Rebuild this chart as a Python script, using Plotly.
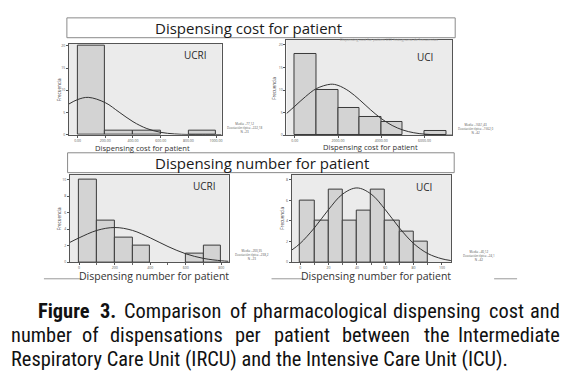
import plotly.graph_objects as go

W, H = 570, 380

# ---------------- data ----------------
# Panel 1: dispensing cost per patient, UCRI
cost_ucri_bin_left = [0, 200, 400, 600, 800]
cost_ucri_counts = [20, 1, 1, 0, 1]
cost_ucri_bin_width = 200
cost_ucri_curve_x = [-63, 0, 77, 200, 300, 400, 500, 600, 700, 800, 900, 1040]
cost_ucri_curve_y = [6.9, 7.9, 8.4, 7.2, 5.07, 2.92, 1.37, 0.52, 0.16, 0.04, 0.01, 0.0]
cost_ucri_xticks = [0, 200, 400, 600, 800, 1000]
cost_ucri_xticklabels = ["0.00", "200.00", "400.00", "600.00", "800.00", "1000.00"]
cost_ucri_yticks = [0, 5, 10, 15, 20]

# Panel 2: dispensing cost per patient, UCI
cost_uci_bin_left = [0, 1000, 2000, 3000, 4000, 5000, 6000]
cost_uci_counts = [18, 10, 6, 4, 3, 0, 1]
cost_uci_bin_width = 1000
cost_uci_curve_x = [-383, 0, 500, 1000, 1661, 2000, 2500, 3000, 3500, 4000, 4500, 5000, 5500, 6000, 6500, 7000, 7277]
cost_uci_curve_y = [4.8, 6.42, 8.57, 10.33, 11.3, 11.04, 9.78, 7.83, 5.65, 3.68, 2.17, 1.15, 0.55, 0.24, 0.09, 0.03, 0.02]
cost_uci_xticks = [0, 2000, 4000, 6000]
cost_uci_xticklabels = ["0.00", "2000.00", "4000.00", "6000.00"]
cost_uci_yticks = [0, 5, 10, 15, 20]

# Panel 3: dispensing number per patient, UCRI
num_ucri_bin_left = [0, 100, 200, 300, 400, 500, 600, 700]
num_ucri_counts = [10, 5, 3, 2, 0, 0, 1, 2]
num_ucri_bin_width = 100
num_ucri_curve_x = [-52, 0, 100, 200, 300, 400, 500, 600, 700, 800, 841]
num_ucri_curve_y = [2.4, 2.95, 3.85, 4.2, 3.85, 2.95, 1.9, 1.02, 0.46, 0.18, 0.11]
num_ucri_xticks = [0, 200, 400, 600, 800]
num_ucri_yticks = [0, 2, 4, 6, 8, 10]

# Panel 4: dispensing number per patient, UCI
num_uci_bin_left = [0, 10, 20, 30, 40, 50, 60, 70, 80]
num_uci_counts = [6, 4, 7, 4, 5, 7, 4, 3, 2]
num_uci_bin_width = 10
num_uci_curve_x = [-5.9, 0, 10, 20, 30, 40, 50, 60, 70, 80, 90, 100, 106.3]
num_uci_curve_y = [1.18, 1.82, 3.32, 5.1, 6.61, 7.2, 6.61, 5.1, 3.32, 1.82, 0.84, 0.33, 0.16]
num_uci_xticks = [0, 20, 40, 60, 80, 100]
num_uci_yticks = [0, 2, 4, 6, 8]

stats_texts = [
    "Media =77,12<br>Desviación típica =222,18<br>N =23",
    "Media =1661,43<br>Desviación típica =1562,0<br>N =42",
    "Media =200,35<br>Desviación típica =238,2<br>N =23",
    "Media =40,12<br>Desviación típica =24,1<br>N =42",
]

caption_line1 = ["Figure", "3.", "Comparison", "of", "pharmacological", "dispensing", "cost", "and"]
caption_line1_bold = [True, True, False, False, False, False, False, False]
caption_line2 = ["number", "of", "dispensations", "per", "patient", "between", "the", "Intermediate"]
caption_line3 = "Respiratory Care Unit (IRCU) and the Intensive Care Unit (ICU)."

# ---------------- layout helpers ----------------
def px(x):
    return x / W

def py(y):
    return 1 - y / H

panels = [
    dict(dx=(69, 222), dy=(43, 134.7), xr=(-63, 1040), yr=(0, 20.5),
         left=cost_ucri_bin_left, counts=cost_ucri_counts, w=cost_ucri_bin_width,
         cx=cost_ucri_curve_x, cy=cost_ucri_curve_y,
         xt=cost_ucri_xticks, xtl=cost_ucri_xticklabels, yt=cost_ucri_yticks, minor=None),
    dict(dx=(287, 453), dy=(39.3, 135.3), xr=(-383, 7277), yr=(0, 21.1),
         left=cost_uci_bin_left, counts=cost_uci_counts, w=cost_uci_bin_width,
         cx=cost_uci_curve_x, cy=cost_uci_curve_y,
         xt=cost_uci_xticks, xtl=cost_uci_xticklabels, yt=cost_uci_yticks, minor=None),
    dict(dx=(70, 229), dy=(175, 263.3), xr=(-52, 841), yr=(0, 10.6),
         left=num_ucri_bin_left, counts=num_ucri_counts, w=num_ucri_bin_width,
         cx=num_ucri_curve_x, cy=num_ucri_curve_y,
         xt=num_ucri_xticks, xtl=[str(v) for v in num_ucri_xticks], yt=num_ucri_yticks, minor=100),
    dict(dx=(292.3, 451.7), dy=(175, 263.3), xr=(-5.9, 106.3), yr=(0, 8.49),
         left=num_uci_bin_left, counts=num_uci_counts, w=num_uci_bin_width,
         cx=num_uci_curve_x, cy=num_uci_curve_y,
         xt=num_uci_xticks, xtl=[str(v) for v in num_uci_xticks], yt=num_uci_yticks, minor=10),
]

fig = go.Figure()
layout = dict(width=W, height=H, margin=dict(l=0, r=0, t=0, b=0),
              paper_bgcolor="white", plot_bgcolor="#ebebeb", showlegend=False,
              bargap=0, font=dict(family="Open Sans, Lato, sans-serif", color="#222"))

for i, p in enumerate(panels):
    n = "" if i == 0 else str(i + 1)
    xa, ya = "x" + n, "y" + n
    bx = [l + p["w"] / 2 for l, c in zip(p["left"], p["counts"]) if c > 0]
    by = [c for c in p["counts"] if c > 0]
    fig.add_trace(go.Bar(x=bx, y=by, width=[p["w"]] * len(bx), xaxis=xa, yaxis=ya,
                         marker=dict(color="#d3d3d3", line=dict(color="#3a3a3a", width=1)),
                         hoverinfo="skip"))
    fig.add_trace(go.Scatter(x=p["cx"], y=p["cy"], mode="lines", line_shape="spline",
                             line=dict(color="#333333", width=1), xaxis=xa, yaxis=ya,
                             hoverinfo="skip"))
    xd = dict(domain=[px(p["dx"][0]), px(p["dx"][1])], range=list(p["xr"]), anchor=ya,
              showline=True, mirror=True, linecolor="#555", linewidth=1, showgrid=False,
              zeroline=False, ticks="outside", ticklen=2, tickwidth=0.6, tickcolor="#555",
              tickvals=p["xt"], ticktext=p["xtl"], tickfont=dict(size=3.5, color="#555"),
              fixedrange=True)
    if p["minor"]:
        xd["minor"] = dict(ticks="outside", ticklen=1.5, dtick=p["minor"], tickcolor="#666")
    yd = dict(domain=[py(p["dy"][1]), py(p["dy"][0])], range=list(p["yr"]), anchor=xa,
              showline=True, mirror=True, linecolor="#555", linewidth=1, showgrid=False,
              zeroline=False, ticks="outside", ticklen=2, tickwidth=0.6, tickcolor="#555",
              tickvals=p["yt"], tickfont=dict(size=3.5, color="#555"), fixedrange=True)
    layout["xaxis" + n] = xd
    layout["yaxis" + n] = yd

fig.update_layout(**layout)

shapes = []
annotations = []

def ann(text, x, y, size, color="#222", family="Open Sans, Lato, sans-serif", xanchor="center",
        yanchor="middle", angle=0, align="center"):
    annotations.append(dict(text=text, x=px(x), y=py(y), xref="paper", yref="paper",
                            showarrow=False, xanchor=xanchor, yanchor=yanchor, textangle=angle,
                            align=align, font=dict(size=size, color=color, family=family)))

# title boxes
for (x0, y0, x1, y1), txt, cx in [((67, 17, 456, 37), "Dispensing cost for patient", 249),
                                  ((67.7, 153, 455, 173), "Dispensing number for patient", 262)]:
    shapes.append(dict(type="rect", xref="paper", yref="paper", x0=px(x0), x1=px(x1),
                       y0=py(y1), y1=py(y0), fillcolor="white", line=dict(color="#8a8a8a", width=1)))
    ann(txt, cx, (y0 + y1) / 2, 15, color="#1a1a1a")

# faint text under the first title box
ann("Dispensing cost for patient UCI  histograma de frecuencias", 390, 38.8, 3.6, color="#9a9a9a")

# unit labels inside panels
ann("UCRI", 196, 54, 10, color="#2a2a2a")
ann("UCI", 426, 56, 10, color="#2a2a2a")
ann("UCRI", 205, 186, 10, color="#2a2a2a")
ann("UCI", 425, 187, 10, color="#2a2a2a")

# y axis titles
for x, y in [(59, 89), (275, 88), (59, 219), (283, 219)]:
    ann("Frecuencia", x, y, 4.5, color="#333", angle=-90)

# x axis titles
ann("Dispensing cost for patient", 143, 148, 7.6, color="#333")
ann("Dispensing cost for patient", 371, 147, 7.6, color="#333")
ann("Dispensing number for patient", 154, 277.5, 10.5, color="#333")
ann("Dispensing number for patient", 377, 277.5, 10.5, color="#333")

# stats boxes
for (x, y), t in zip([(245, 128), (476, 129), (252, 256), (480, 257)], stats_texts):
    ann(t, x, y, 3, color="#555")

# small grey rules
for x0, x1 in [(44, 82), (272, 305), (495, 518)]:
    shapes.append(dict(type="line", xref="paper", yref="paper", x0=px(x0), x1=px(x1),
                       y0=py(280), y1=py(280), line=dict(color="#9a9a9a", width=1)))

# ---------------- caption: justified lines, words placed individually ----------------
ARIAL = {"a": 556, "b": 556, "c": 500, "d": 556, "e": 556, "f": 278, "g": 556, "h": 556,
         "i": 222, "j": 222, "k": 500, "l": 222, "m": 833, "n": 556, "o": 556, "p": 556,
         "q": 556, "r": 333, "s": 500, "t": 278, "u": 556, "v": 500, "w": 722, "x": 500,
         "y": 500, "z": 500, "C": 722, "F": 611, "I": 278, "R": 722, "U": 722, ".": 278,
         "(": 333, ")": 333, "3": 556, " ": 278}
ARIAL_BOLD = {"F": 611, "i": 278, "g": 611, "u": 611, "r": 389, "e": 556, "3": 556, ".": 278}
CAP_SIZE = 20.4
CAP_K = 0.875
cap_font = "Liberation Sans Narrow, Roboto Condensed, DejaVu Sans Condensed, Arial Narrow, sans-serif"

def word_w(word, bold=False):
    tab = ARIAL_BOLD if bold else ARIAL
    return sum(tab.get(ch, ARIAL.get(ch, 556)) for ch in word) * CAP_K * CAP_SIZE / 1000.0

def justify(words, bolds, left, right, y):
    widths = [word_w(w, b) for w, b in zip(words, bolds)]
    gap = (right - left - sum(widths)) / (len(words) - 1)
    x = left
    last = len(words) - 1
    for k, (w, b, ww) in enumerate(zip(words, bolds, widths)):
        t = "<b>%s</b>" % w if b else w
        if k == 0:
            ann(t, left, y, CAP_SIZE, color="#111", family=cap_font, xanchor="left")
        elif k == last:
            ann(t, right, y, CAP_SIZE, color="#111", family=cap_font, xanchor="right")
        else:
            ann(t, x + ww / 2, y, CAP_SIZE, color="#111", family=cap_font, xanchor="center")
        x += ww + gap

justify(caption_line1, caption_line1_bold, 36, 563, 312)
justify(caption_line2, [False] * len(caption_line2), 9, 563, 336.5)
ann(caption_line3, 9, 361, CAP_SIZE, color="#111", family=cap_font, xanchor="left")

fig.update_layout(shapes=shapes, annotations=annotations)
fig.write_html("out.html", config={"displayModeBar": False},
               post_script="document.body.style.margin='0';document.body.style.overflow='hidden';")
